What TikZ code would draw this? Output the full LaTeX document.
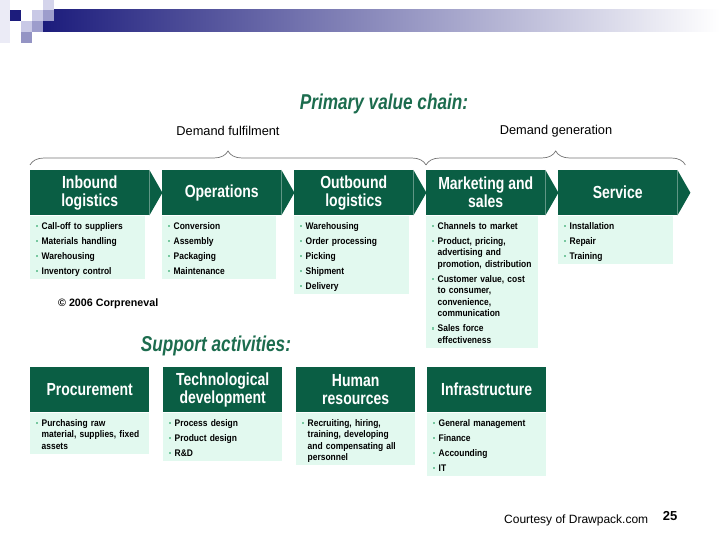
\documentclass[tikz,border=0pt]{standalone}
\usepackage{fontspec}
\setmainfont{Liberation Sans}
\newfontfamily\narrowfont[FakeStretch=0.8]{Liberation Sans}
\newfontfamily\listfont[FakeStretch=0.88]{Liberation Sans}
\usetikzlibrary{decorations.pathreplacing}
\definecolor{hdgreen}{RGB}{10,94,68}
\definecolor{ttlgreen}{RGB}{28,108,78}
\definecolor{mint}{RGB}{226,249,239}
\definecolor{bulgreen}{RGB}{120,200,160}
\definecolor{navy}{RGB}{28,28,124}
\definecolor{lavA}{RGB}{201,201,230}
\definecolor{lavB}{RGB}{157,157,204}
\definecolor{lavC}{RGB}{148,148,196}
\definecolor{lavD}{RGB}{235,235,246}
% bullet at the start of an item, later items start a new paragraph
\newcommand{\bul}{\parskip=3.5pt\hangindent=5.5pt\hangafter=1\noindent
  \makebox[5.5pt][l]{\textcolor{bulgreen}{\rule[2pt]{2.2pt}{2.2pt}}}}
\newcommand{\itm}{\par\bul}
\newcommand{\blist}[1]{\bul #1\rule[-4.5pt]{0pt}{4.5pt}\par}

\begin{document}
\begin{tikzpicture}[x=1pt,y=-1pt,
 head/.style={rectangle,fill=hdgreen,text=white,align=center,inner sep=0pt,
              minimum width=119pt,minimum height=45pt,anchor=north west,
              font=\narrowfont\bfseries\fontsize{17.5}{18}\selectfont},
 body/.style={rectangle,fill=mint,anchor=north west,inner xsep=6pt,inner ysep=0pt,
              text height=13.5pt,align=left,
              font=\listfont\bfseries\fontsize{9.6}{11.5}\selectfont},
 ttl/.style={inner sep=0pt,text=ttlgreen,
             font=\narrowfont\bfseries\itshape\fontsize{21.5}{23}\selectfont},
 grp/.style={inner sep=0pt,font=\fontsize{12.8}{15}\selectfont},
 brc/.style={decorate,decoration={brace,amplitude=14pt},draw=black!55,line width=0.7pt}
]
\useasboundingbox (0,0) rectangle (720,540);
% slide banner
\shade[left color=navy,right color=white] (43,10) rectangle (720,32);
\fill[lavD] (0,0) rectangle (10,43);
\fill[navy] (10,10) rectangle (21,21);
\fill[lavA] (32,10) rectangle (43,21);
\fill[lavA!80!white] (43,0) rectangle (54,10);
\fill[lavB] (43,10) rectangle (54,21);
\fill[lavA] (21,21) rectangle (32,32);
\fill[lavB] (32,21) rectangle (43,32);
\fill[lavC] (21,32) rectangle (32,43);
% primary value chain
\node[ttl] (pvc) at (384,104) {Primary value chain:};
\node[grp] (dful) at (228,131) {Demand fulfilment};
\node[grp] (dgen) at (556,131) {Demand generation};
\node[head] (inb) at (30,170) {Inbound\\logistics};
\node[head] (ops) at (162,170) {Operations};
\node[head] (outb) at (294,170) {Outbound\\logistics};
\node[head] (mkt) at (426,170) {Marketing and\\sales};
\node[head] (srv) at (558,170) {Service};
\foreach \n in {inb,ops,outb,mkt,srv}
  \fill[hdgreen] (\n.north east) -- ([xshift=13pt]\n.east) -- (\n.south east) -- cycle;
\draw[brc] ([yshift=5pt]inb.north west) -- ([yshift=5pt]mkt.north west);
\draw[brc] ([yshift=5pt]mkt.north west) -- ([xshift=8pt,yshift=5pt]srv.north east);
\node[body,text width=103pt] (inbl) at (inb.south west)
  {\blist{Call-off to suppliers\itm Materials handling\itm Warehousing\itm Inventory control}};
\node[body,text width=102pt] (opsl) at (ops.south west)
  {\blist{Conversion\itm Assembly\itm Packaging\itm Maintenance}};
\node[body,text width=103pt] (outbl) at (outb.south west)
  {\blist{Warehousing\itm Order processing\itm Picking\itm Shipment\itm Delivery}};
\node[body,text width=100pt] (mktl) at (mkt.south west)
  {\blist{Channels to market
   \itm Product, pricing,\newline advertising and\newline promotion, distribution
   \itm Customer value, cost\newline to consumer,\newline convenience,\newline communication
   \itm Sales force\newline effectiveness}};
\node[body,text width=103pt] (srvl) at (srv.south west)
  {\blist{Installation\itm Repair\itm Training}};
\node[anchor=west,inner sep=0pt,font=\bfseries\fontsize{10.7}{12}\selectfont]
  (cpr) at (58,304) {\textcopyright{} 2006 Corpreneval};
% support activities
\node[ttl] (sup) at (216,346) {Support activities:};
\node[head] (proc) at (30,367) {Procurement};
\node[head] (tech) at (163,367) {Technological\\development};
\node[head] (hr) at (296,367) {Human\\resources};
\node[head] (infra) at (427,367) {Infrastructure};
\node[body,text width=107pt] (procl) at (proc.south west)
  {\blist{Purchasing raw\newline material, supplies, fixed\newline assets}};
\node[body,text width=107pt] (techl) at (tech.south west)
  {\blist{Process design\itm Product design\itm R\&D}};
\node[body,text width=107pt] (hrl) at (hr.south west)
  {\blist{Recruiting, hiring,\newline training, developing\newline and compensating all\newline personnel}};
\node[body,text width=107pt] (infral) at (infra.south west)
  {\blist{General management\itm Finance\itm Accounding\itm IT}};
% footer
\node[anchor=west,inner sep=0pt,font=\fontsize{12}{14}\selectfont] (court) at (504,520)
  {Courtesy of Drawpack.com};
\node[inner sep=0pt,font=\bfseries\fontsize{13}{14}\selectfont] (pgno) at (670,516) {25};
\end{tikzpicture}
\end{document}
